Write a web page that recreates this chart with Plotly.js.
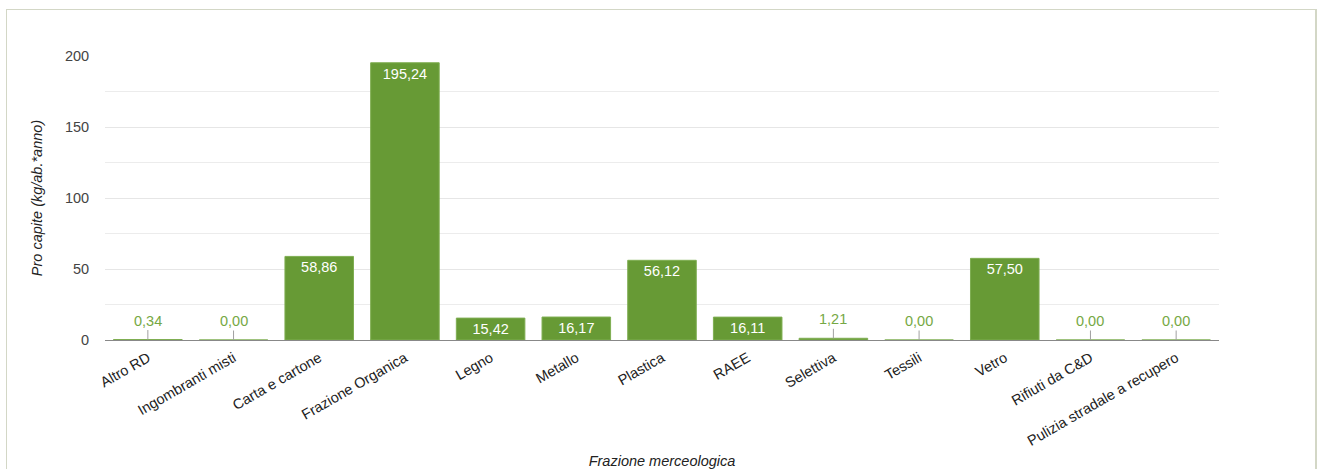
<!DOCTYPE html>
<html>
<head>
<meta charset="utf-8">
<script src="https://cdn.plot.ly/plotly-3.0.1.min.js"></script>
<style>
  html, body { margin: 0; padding: 0; background: #fff; }
  #wrap { position: relative; width: 1322px; height: 469px; overflow: hidden; }
  #chart { width: 1322px; height: 469px; }
  #frame { position: absolute; left: 6px; top: 9px; width: 1308px; height: 480px;
           border-top: 1px solid #d3d7c6; border-left: 1px solid #d3d7c6; border-right: 2px solid #d3d7c6;
           pointer-events: none; }
</style>
</head>
<body>
<div id="wrap">
  <div id="chart"></div>
  <div id="frame"></div>
</div>
<script>
const categories = ["Altro RD", "Ingombranti misti", "Carta e cartone", "Frazione Organica", "Legno", "Metallo",
  "Plastica", "RAEE", "Selettiva", "Tessili", "Vetro", "Rifiuti da C&D", "Pulizia stradale a recupero"];
const proCapite = [0.34, 0.00, 58.86, 195.24, 15.42, 16.17, 56.12, 16.11, 1.21, 0.00, 57.50, 0.00, 0.00];
const yTicks = [0, 50, 100, 150, 200];

const BAR = "#679a35";
const insideThreshold = 10;
const FONT = "Liberation Sans, Arial, sans-serif";

const fmt = v => v.toFixed(2).replace(".", ",");

const trace = {
  type: "bar",
  x: categories,
  y: proCapite,
  marker: { color: BAR, line: { color: "#7fae52", width: 1 } },
  text: proCapite.map(v => v >= insideThreshold ? fmt(v) : ""),
  textposition: proCapite.map(v => v >= insideThreshold ? "inside" : "none"),
  insidetextanchor: "end",
  textfont: { color: "#ffffff", size: 14.5, family: FONT },
  constraintext: "none",
  hoverinfo: "x+y",
  cliponaxis: false
};

const annotations = [];
categories.forEach((c, i) => {
  const v = proCapite[i];
  if (v < insideThreshold) {
    annotations.push({
      x: c, y: v, xref: "x", yref: "y",
      text: fmt(v),
      showarrow: true, arrowhead: 0, arrowwidth: 1, arrowcolor: "#a0a0a0",
      ax: 0, ay: -19, standoff: 0,
      font: { color: "#76a844", size: 14.5, family: FONT }
    });
  }
});

const layout = {
  width: 1322, height: 469,
  margin: { l: 105, r: 103, t: 56, b: 129 },
  paper_bgcolor: "#ffffff",
  plot_bgcolor: "#ffffff",
  bargap: 0.2,
  showlegend: false,
  font: { family: FONT, color: "#222222" },
  xaxis: {
    type: "category",
    tickangle: -30,
    tickfont: { size: 14.5, color: "#222222" },
    ticks: "outside", ticklen: 3, tickcolor: "rgba(0,0,0,0)",
    showgrid: false,
    showline: true,
    linecolor: "#888888",
    linewidth: 1,
    title: { text: "Frazione merceologica", font: { size: 14.5, color: "#222222", style: "italic" }, standoff: 29 },
    automargin: false
  },
  yaxis: {
    range: [0, 200],
    tickvals: yTicks,
    ticktext: yTicks.map(String),
    tickfont: { size: 14.5, color: "#444444" },
    ticks: "outside", ticklen: 12, tickcolor: "rgba(0,0,0,0)",
    showgrid: true, gridcolor: "#e6e6e6", gridwidth: 1,
    minor: { showgrid: true, gridcolor: "#ececec", gridwidth: 1, tickvals: [25, 75, 125, 175] },
    zeroline: false,
    showline: false,
    title: { text: "Pro capite (kg/ab.*anno)", font: { size: 14.5, color: "#222222", style: "italic" }, standoff: 18 },
    automargin: false
  },
  separators: ",.",
  annotations: annotations
};

Plotly.newPlot("chart", [trace], layout, { displayModeBar: false, staticPlot: true });
</script>
</body>
</html>
